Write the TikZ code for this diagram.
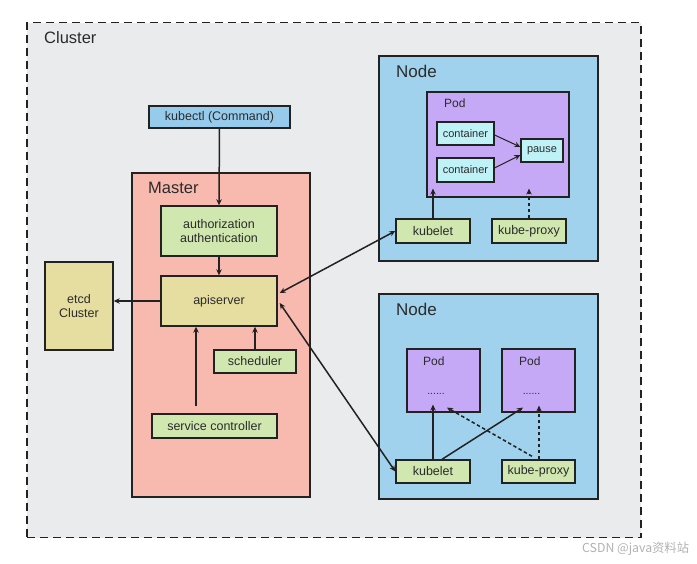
\documentclass[tikz,border=0pt]{standalone}
\usepackage{fontspec}
\setmainfont{Liberation Sans}
\newfontfamily\cjk{Noto Sans CJK SC}
\usetikzlibrary{arrows.meta,shadows}
\definecolor{clusterbg}{HTML}{E9EBEC}
\definecolor{kubectlc}{HTML}{96CBEB}
\definecolor{nodec}{HTML}{A0D2EE}
\definecolor{masterc}{HTML}{F8BAAE}
\definecolor{greenc}{HTML}{D0E8B0}
\definecolor{yellowc}{HTML}{E6DEA0}
\definecolor{podc}{HTML}{C6A9F6}
\definecolor{contc}{HTML}{BFF2F7}
\definecolor{txt}{HTML}{2B2B2B}
\definecolor{edge}{HTML}{222222}
\tikzset{
  box/.style={draw=edge, line width=1.4pt, rectangle, inner sep=0pt, align=center,
    text=txt, font=\fontsize{12.5}{14}\selectfont,
    drop shadow={opacity=0.22, shadow xshift=1pt, shadow yshift=-1pt}},
  bigbox/.style={draw=edge, line width=1.4pt, rectangle, inner sep=0pt,
    drop shadow={opacity=0.18, shadow xshift=1pt, shadow yshift=-1pt}},
  smallbox/.style={box, fill=contc, line width=1.2pt, font=\fontsize{11}{13}\selectfont},
  titlelab/.style={anchor=west, inner sep=0pt, text=txt, font=\fontsize{16.5}{18}\selectfont},
  podlab/.style={anchor=west, inner sep=0pt, text=txt, font=\fontsize{12}{14}\selectfont},
  dotlab/.style={inner sep=0pt, text=txt!80!violet, font=\fontsize{10.5}{12}\selectfont},
  arr/.style={draw=edge, line width=1.5pt, -{Stealth[length=6pt,width=5.5pt]}},
  darr/.style={arr, dashed, dash pattern=on 3.5pt off 2.5pt},
  barr/.style={draw=edge, line width=1.5pt, {Stealth[length=6pt,width=5.5pt]}-{Stealth[length=6pt,width=5.5pt]}},
}
\begin{document}
\begin{tikzpicture}[x=1pt,y=-1pt]
\useasboundingbox (0,0) rectangle (697,563);
\fill[white] (0,0) rectangle (697,563);
% cluster
\node[draw=edge, fill=clusterbg, line width=1.5pt, dash pattern=on 8pt off 5pt,
  minimum width=614pt, minimum height=515pt, inner sep=0pt] (cluster) at (334,280) {};
\node[titlelab] (clusterlab) at (44,38) {Cluster};

% master
\node[bigbox, fill=masterc, minimum width=178pt, minimum height=324pt] (master) at (221,335) {};
\node[titlelab] (masterlab) at (148,188) {Master};

\node[box, fill=kubectlc, minimum width=141pt, minimum height=22pt] (kubectl) at (219.5,117) {kubectl (Command)};
\node[box, fill=greenc, minimum width=116pt, minimum height=50pt] (auth) at (219,231) {authorization\\authentication};
\node[box, fill=yellowc, minimum width=116pt, minimum height=50pt] (api) at (219,301) {apiserver};
\node[box, fill=yellowc, minimum width=68pt, minimum height=88pt] (etcd) at (79,306) {etcd\\Cluster};
\node[box, fill=greenc, minimum width=82pt, minimum height=23pt] (sched) at (255,361.5) {scheduler};
\node[box, fill=greenc, minimum width=125pt, minimum height=24pt] (svc) at (214.5,426) {service controller};

% node 1
\node[bigbox, fill=nodec, minimum width=219pt, minimum height=205pt] (node1) at (488.5,158.5) {};
\node[titlelab, font=\fontsize{17}{19}\selectfont] (node1lab) at (396,71) {Node};
\node[bigbox, fill=podc, line width=1.2pt, minimum width=142pt, minimum height=105pt] (pod1) at (498,144.5) {};
\node[podlab] (pod1lab) at (444,103.5) {Pod};
\node[smallbox, minimum width=57pt, minimum height=23pt] (cont1) at (465.5,133.5) {container};
\node[smallbox, minimum width=57pt, minimum height=24pt] (cont2) at (465.5,170) {container};
\node[smallbox, minimum width=42pt, minimum height=23pt] (pause) at (542,150.5) {pause};
\node[box, fill=greenc, minimum width=74pt, minimum height=24pt] (kubelet1) at (433,231) {kubelet};
\node[box, fill=greenc, minimum width=74pt, minimum height=24pt] (proxy1) at (529,231) {kube-proxy};

% node 2
\node[bigbox, fill=nodec, minimum width=219pt, minimum height=205pt] (node2) at (488.5,396.5) {};
\node[titlelab, font=\fontsize{17}{19}\selectfont] (node2lab) at (396,309) {Node};
\node[bigbox, fill=podc, line width=1.2pt, minimum width=73pt, minimum height=63pt] (pod2a) at (443.5,380.5) {};
\node[bigbox, fill=podc, line width=1.2pt, minimum width=73pt, minimum height=63pt] (pod2b) at (538.5,380.5) {};
\node[podlab] (pod2alab) at (423,361) {Pod};
\node[podlab] (pod2blab) at (519,361) {Pod};
\node[dotlab] (dots2a) at (436,394) {......};
\node[dotlab] (dots2b) at (531.5,394) {......};
\node[box, fill=greenc, minimum width=74pt, minimum height=23pt] (kubelet2) at (433,471.5) {kubelet};
\node[box, fill=greenc, minimum width=73pt, minimum height=23pt] (proxy2) at (538.5,471.5) {kube-proxy};

% master arrows
\draw[arr] (kubectl.south) -- (auth.north);
\draw[arr] (auth.south) -- (api.north);
\draw[arr] (api.west) -- (api.west -| etcd.east);
\draw[arr] ([xshift=-18.5pt,yshift=7pt]svc.north) -- ([xshift=-23pt]api.south);
\draw[arr] (sched.north) -- ([xshift=36pt]api.south);

% node1 arrows
\draw[arr] (kubelet1.north) -- ([xshift=-65pt,yshift=9pt]pod1.south);
\draw[darr] (proxy1.north) -- ([xshift=31pt,yshift=9pt]pod1.south);
\draw[arr, line width=1pt] ([yshift=-1.5pt]cont1.east) -- ([yshift=3.5pt]pause.west);
\draw[arr, line width=1pt] ([yshift=2pt]cont2.east) -- ([yshift=-4.5pt]pause.west);

% node2 arrows
\draw[arr] (kubelet2.north) -- ([xshift=-10.5pt,yshift=8pt]pod2a.south);
\draw[arr] ([xshift=9pt]kubelet2.north) -- ([xshift=-15.5pt,yshift=5pt]pod2b.south);
\draw[darr] ([xshift=-6.5pt,yshift=3pt]proxy2.north) -- ([xshift=3.5pt,yshift=5pt]pod2a.south);
\draw[darr] ([xshift=0.5pt]proxy2.north) -- ([xshift=0.5pt,yshift=7pt]pod2b.south);

% api <-> kubelets
\draw[barr] ([xshift=2pt,yshift=8pt]api.east) -- (kubelet1.west);
\draw[barr] ([xshift=2pt,yshift=-2pt]api.east) -- (kubelet2.west);

% watermark
\node[anchor=west, inner sep=0pt, text=black!30, font=\cjk\fontsize{12.3}{14}\selectfont] (wm) at (582,549) {CSDN @java资料站};
\end{tikzpicture}
\end{document}
